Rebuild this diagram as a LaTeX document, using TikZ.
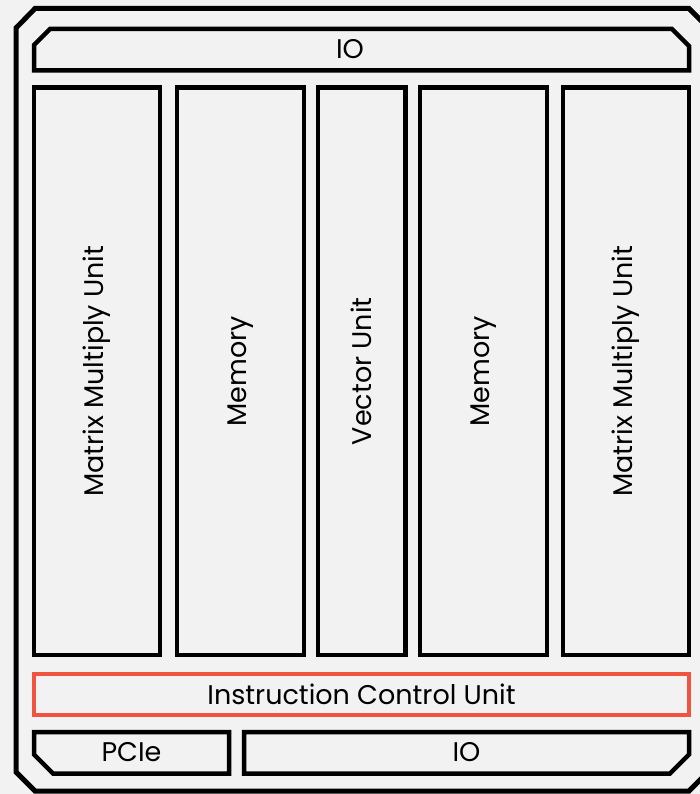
\documentclass[tikz,border=0pt]{standalone}
\usepackage{fontspec}
\setmainfont{Poppins}
\definecolor{bg}{RGB}{242,242,242}
\definecolor{icured}{RGB}{240,84,64}
\begin{document}
\begin{tikzpicture}[x=1pt,y=-1pt,
  box/.style={draw=black,line width=4.5pt},
  lbl/.style={font=\fontsize{27}{30}\selectfont,text=black,inner sep=0pt},
  vlbl/.style={lbl,rotate=90}]
\fill[bg] (0,0) rectangle (700,794);
\useasboundingbox (0,0) rectangle (700,794);
% outer chip
\draw[line width=5pt,line join=miter] (16,28) -- (35,8.5) -- (689,8.5) -- (709,28.5) -- (709,771) -- (689,791) -- (35,791) -- (16,772) -- cycle;
% top IO
\draw[box,fill=bg] (34,45) -- (50,29) -- (672,29) -- (689,46) -- (689,70.5) -- (34,70.5) -- cycle;
\node[lbl] (io1) at (350,49) {IO};
% columns
\node[box,fill=bg,minimum width=126pt,minimum height=567.5pt,inner sep=0pt] (c1) at (97,371.25) {};
\node[box,fill=bg,minimum width=127pt,minimum height=567.5pt,inner sep=0pt] (c2) at (240.5,371.25) {};
\node[box,fill=bg,minimum width=87.5pt,minimum height=567.5pt,inner sep=0pt] (c3) at (361.75,371.25) {};
\node[box,fill=bg,minimum width=127pt,minimum height=567.5pt,inner sep=0pt] (c4) at (483.5,371.25) {};
\node[box,fill=bg,minimum width=126pt,minimum height=567.5pt,inner sep=0pt] (c5) at (626,371.25) {};
\node[vlbl] at (c1.center) {Matrix Multiply Unit};
\node[vlbl] at (c2.center) {Memory};
\node[vlbl] at (c3.center) {Vector Unit};
\node[vlbl] at (c4.center) {Memory};
\node[vlbl] at (c5.center) {Matrix Multiply Unit};
% ICU
\node[draw=icured,line width=4.5pt,fill=bg,minimum width=655pt,minimum height=41pt,inner sep=0pt] (icu) at (361.5,694.5) {};
\node[lbl] at (icu.center) {Instruction Control Unit};
% bottom row
\draw[box,fill=bg] (34,732) -- (229,732) -- (229,773.5) -- (53,773.5) -- (34,754.5) -- cycle;
\node[lbl] (pcie) at (131.5,752) {PCIe};
\draw[box,fill=bg] (244,732) -- (689,732) -- (689,754.5) -- (670,773.5) -- (244,773.5) -- cycle;
\node[lbl] (io2) at (466.5,752) {IO};
\end{tikzpicture}
\end{document}
